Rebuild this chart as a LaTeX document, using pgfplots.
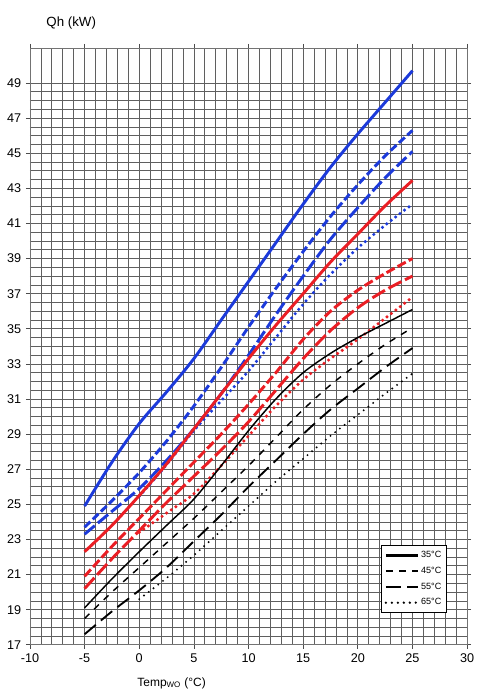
\documentclass[border=0pt]{standalone}
\usepackage{fontspec}
\setmainfont{Liberation Sans}
\usepackage{pgfplots}
\pgfplotsset{compat=1.18}
\definecolor{cblue}{RGB}{28,58,218}
\definecolor{cred}{RGB}{234,30,36}
\definecolor{gridc}{RGB}{95,95,95}

\begin{document}
\begin{tikzpicture}
\begin{axis}[
    name=ax,
    width=328.5pt, height=448.5pt, scale only axis,
    xmin=-10, xmax=30, ymin=17, ymax=51,
    xtick={-10,-5,...,30}, ytick={17,19,...,49},
    minor x tick num=4, minor y tick num=3,
    grid=both,
    major grid style={gridc, line width=0.55pt},
    minor grid style={gridc, line width=0.55pt},
    axis line style={black!55, line width=0.6pt},
    tick align=outside, major tick length=3pt, minor tick length=0pt,
    tick style={black!70, line width=0.5pt},
    /pgf/number format/assume math mode=true,
    ticklabel style={font=\fontsize{9.5}{11}\selectfont},
    xlabel={Temp\textsubscript{WO} (°C)},
    xlabel style={font=\fontsize{9}{11}\selectfont, at={(axis description cs:0.324,-0.064)}, anchor=center},
    ylabel={Qh (kW)},
    ylabel style={font=\fontsize{10}{12}\selectfont, rotate=-90, at={(axis description cs:0.027,1.042)}, anchor=west},
    legend cell align=left,
    legend style={
        at={(axis description cs:0.954,0.054)}, anchor=south east,
        font=\fontsize{6.8}{8}\selectfont, draw=black, line width=0.6pt,
        inner sep=2.5pt, row sep=2.6pt,
        nodes={inner sep=1.5pt}
    },
    legend image code/.code={\draw[#1, line width=1.9pt] (0pt,0pt) -- (24pt,0pt);},
]
% blue unit
\addplot[cblue, line width=2.2pt, smooth, forget plot] coordinates {
  (-5,24.9) (-2.5,27.4) (0,29.6) (2.5,31.4) (5,33.3) (7.5,35.5) (10,37.7) (12.5,39.9) (15,42.1) (17.5,44.2) (20,46.1) (22.5,47.9) (25,49.7)};
\addplot[cblue, line width=2.2pt, dash pattern=on 6pt off 2.5pt, smooth, forget plot] coordinates {
  (-5,23.7) (-2.5,25.2) (0,26.8) (2.5,28.6) (5,30.6) (7.5,32.8) (10,35.1) (12.5,37.3) (15,39.4) (17.5,41.4) (20,43.2) (22.5,44.85) (25,46.3)};
\addplot[cblue, line width=2.2pt, dash pattern=on 10pt off 3pt, smooth, forget plot] coordinates {
  (-5,23.3) (-2.5,24.6) (0,25.9) (2.5,27.5) (5,29.3) (7.5,31.3) (10,33.5) (12.5,35.8) (15,38.0) (17.5,40.1) (20,41.9) (22.5,43.6) (25,45.1)};
\addplot[cblue, line width=2.6pt, line cap=round, dash pattern=on 0pt off 4.2pt, smooth, forget plot] coordinates {
  (0,25.45) (2.5,27.25) (5,29.2) (7.5,30.9) (10,32.6) (12.5,34.5) (15,36.4) (17.5,38.1) (20,39.6) (22.5,40.9) (25,42.1)};
% red unit
\addplot[cred, line width=2.2pt, smooth, forget plot] coordinates {
  (-5,22.3) (-2.5,23.8) (0,25.5) (2.5,27.3) (5,29.3) (7.5,31.3) (10,33.3) (12.5,35.2) (15,37.0) (17.5,38.8) (20,40.4) (22.5,42.0) (25,43.45)};
\addplot[cred, line width=2.2pt, dash pattern=on 7pt off 2.5pt, smooth, forget plot] coordinates {
  (-5,20.9) (-2.5,22.6) (0,24.2) (2.5,25.8) (5,27.4) (7.5,29.0) (10,30.7) (12.5,32.5) (15,34.4) (17.5,36.0) (20,37.2) (22.5,38.15) (25,39.0)};
\addplot[cred, line width=2.2pt, dash pattern=on 11pt off 3pt, smooth, forget plot] coordinates {
  (-5,20.2) (-2.5,21.9) (0,23.5) (2.5,25.1) (5,26.6) (7.5,28.1) (10,29.7) (12.5,31.5) (15,33.3) (17.5,34.9) (20,36.2) (22.5,37.2) (25,38.0)};
\addplot[cred, line width=2.6pt, line cap=round, dash pattern=on 0pt off 4.2pt, smooth, forget plot] coordinates {
  (0,23.4) (2.5,24.5) (5,25.6) (7.5,27.2) (10,28.9) (12.5,30.6) (15,32.1) (17.5,33.3) (20,34.4) (22.5,35.6) (25,36.8)};
% black unit
\addplot[black, line width=1.1pt, smooth] coordinates {
  (-5,19.1) (-2.5,20.75) (0,22.3) (2.5,23.8) (5,25.3) (7.5,27.2) (10,29.2) (12.5,31.0) (15,32.5) (17.5,33.6) (20,34.5) (22.5,35.3) (25,36.1)};
\addplot[black, line width=1.1pt, dash pattern=on 5pt off 5pt, smooth] coordinates {
  (-5,18.5) (-2.5,20.0) (0,21.4) (2.5,22.8) (5,24.2) (7.5,25.7) (10,27.2) (12.5,28.8) (15,30.4) (17.5,31.8) (20,33.0) (22.5,34.1) (25,35.06)};
\addplot[black, line width=1.4pt, dash pattern=on 11pt off 5pt, smooth] coordinates {
  (-5,17.6) (-2.5,18.9) (0,20.1) (2.5,21.4) (5,22.9) (7.5,24.4) (10,26.0) (12.5,27.5) (15,29.0) (17.5,30.4) (20,31.6) (22.5,32.8) (25,33.9)};
\addplot[black, line width=1.6pt, line cap=round, dash pattern=on 0pt off 4.5pt, smooth] coordinates {
  (0,19.6) (2.5,20.8) (5,22.1) (7.5,23.5) (10,24.9) (12.5,26.3) (15,27.6) (17.5,28.9) (20,30.1) (22.5,31.3) (25,32.45)};
\legend{35°C, 45°C, 55°C, 65°C}
\end{axis}
\path[use as bounding box] ([shift={(-22.5pt,-35.25pt)}]ax.south west) rectangle ([shift={(3.75pt,36pt)}]ax.north east);
\end{tikzpicture}
\end{document}
